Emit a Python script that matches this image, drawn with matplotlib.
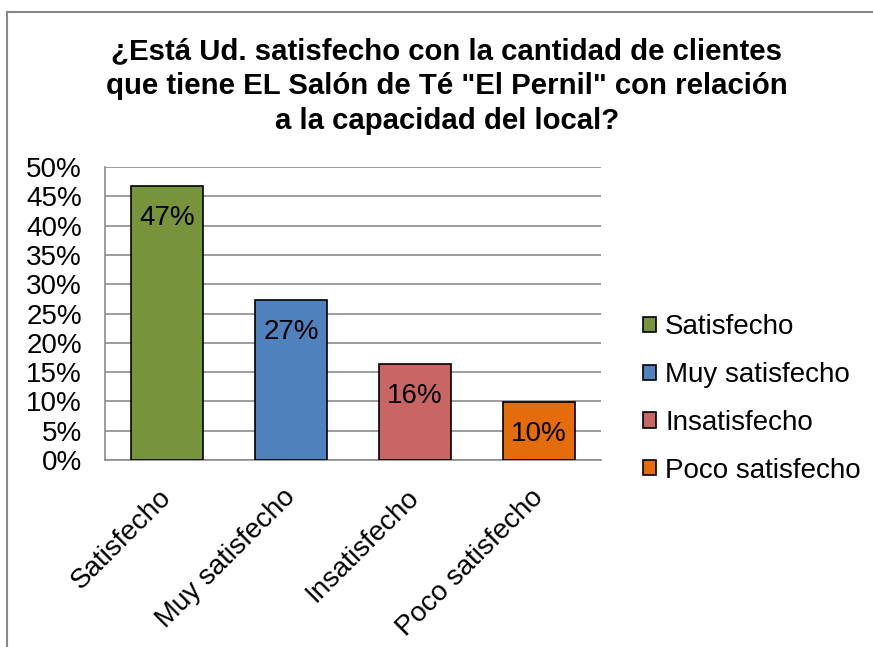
import matplotlib
matplotlib.use("Agg")
import matplotlib.pyplot as plt
import matplotlib.transforms as mtransforms
from matplotlib.patches import Patch
from matplotlib.lines import Line2D
from matplotlib.ticker import PercentFormatter

plt.rcParams['font.family'] = ['Liberation Sans', 'DejaVu Sans']

categories = ["Satisfecho", "Muy satisfecho", "Insatisfecho", "Poco satisfecho"]
values = [0.468, 0.273, 0.164, 0.099]
labels = ["47%", "27%", "16%", "10%"]
colors = ["#77933C", "#4F81BD", "#C96565", "#E46C0A"]
title = '¿Está Ud. satisfecho con la cantidad de clientes\nque tiene EL Salón de Té "El Pernil" con relación\na la capacidad del local?'

W, H = 873, 647
FS = 20
fig = plt.figure(figsize=(W / 100, H / 100), dpi=100)

# outer border (chart area)
fig.add_artist(Line2D([7 / W, 7 / W], [0, 1 - 12 / H], color="#888888", lw=1.5, transform=fig.transFigure))
fig.add_artist(Line2D([7 / W, 1], [1 - 12 / H, 1 - 12 / H], color="#888888", lw=1.5, transform=fig.transFigure))

left, right, top, bottom = 105, 601, 167, 460
ax = fig.add_axes([left / W, 1 - bottom / H, (right - left) / W, (bottom - top) / H])

x = range(len(categories))
bars = ax.bar(x, values, width=0.575, color=colors, edgecolor="black", linewidth=1.2, zorder=3)
ax.set_xlim(-0.5, len(categories) - 0.5)
ax.set_ylim(0, 0.5)
ax.set_yticks([i * 0.05 for i in range(11)])
ax.yaxis.set_major_formatter(PercentFormatter(1.0, decimals=0))
ax.grid(axis="y", color="#8c8c8c", linewidth=1.2, zorder=0)
ax.set_axisbelow(True)

for s in ["top", "right"]:
    ax.spines[s].set_visible(False)
for s in ["left", "bottom"]:
    ax.spines[s].set_color("#8c8c8c")
    ax.spines[s].set_linewidth(1.2)

ax.tick_params(axis="y", length=0, labelsize=FS, pad=16.5)
ax.tick_params(axis="x", length=0, labelsize=FS, pad=24)
ax.set_xticks(list(x))
ax.set_xticklabels(categories, rotation=45, ha="right", va="center", rotation_mode="anchor")
for t in ax.get_xticklabels():
    t.set_transform(t.get_transform() + mtransforms.ScaledTranslation(0, 0, fig.dpi_scale_trans))

for b, lab in zip(bars, labels):
    ax.annotate(lab, (b.get_x() + b.get_width() / 2, b.get_height()),
                xytext=(0, -32), textcoords="offset pixels",
                ha="center", va="center", fontsize=FS, zorder=4)

fig.text(447 / W, 1 - 86 / H, title, ha="center", va="center", fontsize=21.2,
         fontweight="bold", linespacing=1.3)

handles = [Patch(facecolor=c, edgecolor="black", linewidth=1.2) for c in colors]
fig.legend(handles, categories, loc="center left", bbox_to_anchor=(618 / W, 1 - 399 / H),
           frameon=False, fontsize=FS, handlelength=0.47, handleheight=0.47,
           handletextpad=0.33, labelspacing=0.78)

fig.savefig("out.png", dpi=100)
